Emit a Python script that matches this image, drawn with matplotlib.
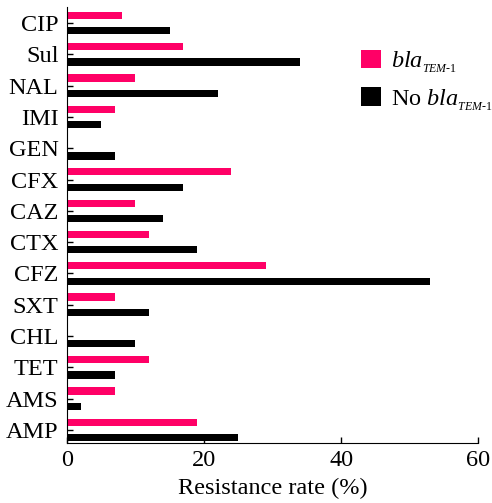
import matplotlib.pyplot as plt
import numpy as np

plt.rcParams['font.family'] = 'Liberation Serif'
plt.rcParams['mathtext.fontset'] = 'custom'
plt.rcParams['mathtext.rm'] = 'Liberation Serif'
plt.rcParams['mathtext.it'] = 'Liberation Serif:italic'

# antibiotika, fra toppen og ned
drugs = ['CIP', 'Sul', 'NAL', 'IMI', 'GEN', 'CFX', 'CAZ', 'CTX',
         'CFZ', 'SXT', 'CHL', 'TET', 'AMS', 'AMP']
bla_tem = [8, 17, 10, 7, 0, 24, 10, 12, 29, 7, 0, 12, 7, 19]
no_bla_tem = [15, 34, 22, 5, 7, 17, 14, 19, 53, 12, 10, 7, 2, 25]

fig = plt.figure(figsize=(4.92, 5.03), dpi=100)
ax = fig.add_axes([0.136, 0.119, 0.836, 0.867])

y = np.arange(len(drugs))[::-1]
h = 0.23
off = 0.245
sub = r'_{{}_{\mathit{TEM\text{-}1}}}'
ax.barh(y + off, bla_tem, height=h, color='#FF0066',
        label=r'$\mathit{bla}' + sub + '$')
ax.barh(y - off, no_bla_tem, height=h, color='black',
        label=r'No $\mathit{bla}' + sub + '$')

ax.set_yticks(y)
ax.set_yticklabels(drugs)
ax.set_xlim(0, 60)
ax.set_xticks([0, 20, 40, 60])
ax.set_ylim(-0.42, 13.51)
ax.set_xlabel('Resistance rate (%)', fontsize=17.5, labelpad=5)

ax.tick_params(direction='in', labelsize=17.5, length=4, width=1)
ax.tick_params(axis='y', pad=6)
ax.tick_params(axis='x', pad=5)
ax.spines['top'].set_visible(False)
ax.spines['right'].set_visible(False)

ax.legend(loc='upper left', bbox_to_anchor=(0.662, 0.953), frameon=False,
          fontsize=17.5, handlelength=0.8, handleheight=0.8,
          handletextpad=0.45, labelspacing=0.5)

fig.savefig('out.png', dpi=100)
